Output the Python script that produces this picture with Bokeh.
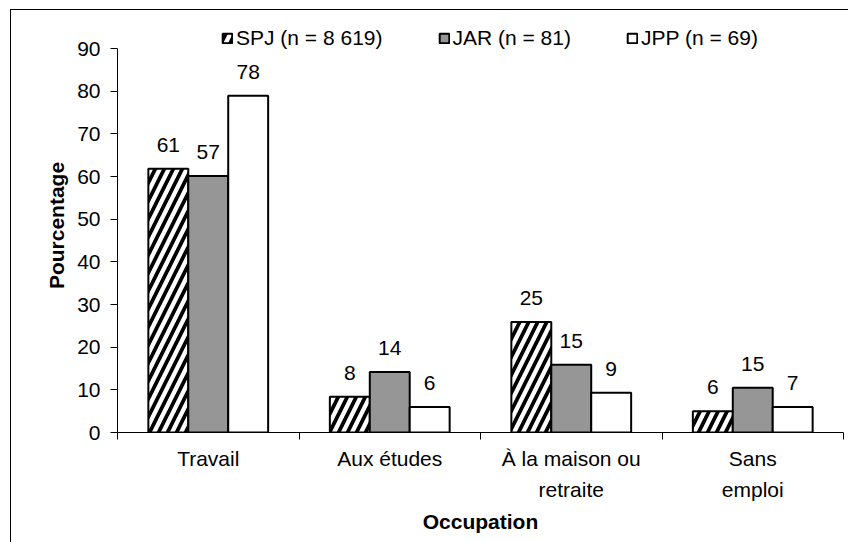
from bokeh.plotting import figure
from bokeh.models import Range1d, FixedTicker, Legend, LegendItem, ColumnDataSource
from bokeh.embed import file_html
from bokeh.resources import INLINE
from bokeh.core.properties import value

# ---- data ----
categories = ["Travail", "Aux études", "À la maison ou\nretraite", "Sans\nemploi"]
series_names = ["SPJ (n = 8 619)", "JAR (n = 81)", "JPP (n = 69)"]
spj_values = [61.8, 8.4, 25.9, 5.0]
jar_values = [60.1, 14.2, 15.9, 10.5]
jpp_values = [78.9, 6.0, 9.3, 6.0]
spj_labels = ["61", "8", "25", "6"]
jar_labels = ["57", "14", "15", "15"]
jpp_labels = ["78", "6", "9", "7"]
y_ticks = [0, 10, 20, 30, 40, 50, 60, 70, 80, 90]
y_axis_max = 90

FONT = "Liberation Sans"
FS = "21px"

TOP_PAD = 18      # frame top (room for the legend above the 90 tick)
AXIS_TOP = 48     # pixel row of the 90 tick
AXIS_BOTTOM = 432 # pixel row of the 0 tick
y_end = y_axis_max * (AXIS_BOTTOM - TOP_PAD) / (AXIS_BOTTOM - AXIS_TOP)

p = figure(width=848, height=542, x_range=Range1d(0, 4), y_range=Range1d(0, y_end),
           output_backend="svg", toolbar_location=None,
           min_border_left=117, min_border_right=5, min_border_top=TOP_PAD,
           min_border_bottom=542 - AXIS_BOTTOM)
p.xgrid.visible = False
p.ygrid.visible = False
p.outline_line_color = None
p.background_fill_color = "white"
p.border_fill_alpha = 0
p.styles = {"box-shadow": "inset 10px 9px 0 0 white, inset 11px 10px 0 0 black"}

centers = [i + 0.5 for i in range(len(categories))]
offsets = [-0.22, 0.0, 0.22]
bar_w = 0.22

series = [
    (spj_values, spj_labels, dict(fill_color="white", hatch_pattern="/", hatch_color="black",
                                  hatch_weight=3.8, hatch_scale=18)),
    (jar_values, jar_labels, dict(fill_color="#969696")),
    (jpp_values, jpp_labels, dict(fill_color="white")),
]

renderers = []
for (vals, lbls, style), off in zip(series, offsets):
    src = ColumnDataSource(dict(x=[c + off for c in centers], top=vals, lbl=lbls))
    r = p.vbar(x="x", top="top", width=bar_w, source=src, line_color="black",
               line_width=2, **style)
    renderers.append(r)
    p.text(x="x", y="top", text="lbl", source=src, text_font=value(FONT),
           text_font_size=FS, text_align="center", text_baseline="middle",
           y_offset=-24, text_color="black")

# axes
xa = p.xaxis[0]
xa.ticker = FixedTicker(ticks=centers, minor_ticks=[0, 1, 2, 3, 4])
xa.major_label_overrides = {c: lab for c, lab in zip(centers, categories)}
xa.major_tick_line_color = None
xa.minor_tick_line_color = "black"
xa.minor_tick_out = 7
xa.minor_tick_in = 0
xa.axis_line_color = "black"
xa.major_label_text_font = FONT
xa.major_label_text_font_size = FS
xa.major_label_text_color = "black"
xa.major_label_text_line_height = 1.35
xa.major_label_standoff = 7
xa.axis_label = "Occupation"
xa.axis_label_text_font = FONT
xa.axis_label_text_font_size = FS
xa.axis_label_text_font_style = "bold"
xa.axis_label_text_color = "black"
xa.axis_label_standoff = 6

ya = p.yaxis[0]
ya.ticker = FixedTicker(ticks=y_ticks)
ya.bounds = (0, y_axis_max)
ya.minor_tick_line_color = None
ya.major_tick_out = 7
ya.major_tick_in = 0
ya.axis_line_color = "black"
ya.major_label_text_font = FONT
ya.major_label_text_font_size = FS
ya.major_label_text_color = "black"
ya.major_label_standoff = 10
ya.axis_label = "Pourcentage"
ya.axis_label_text_font = FONT
ya.axis_label_text_font_size = FS
ya.axis_label_text_font_style = "bold"
ya.axis_label_text_color = "black"
ya.axis_label_standoff = 6

legend = Legend(items=[LegendItem(label=n, renderers=[r]) for n, r in zip(series_names, renderers)],
                orientation="horizontal", location=(104, 382),
                glyph_width=12, glyph_height=12, label_standoff=3, spacing=55,
                padding=0, margin=0, border_line_color=None, background_fill_alpha=0,
                label_text_font=FONT, label_text_font_size=FS, label_height=20,
                label_text_color="black")
p.add_layout(legend)

open("out.html", "w").write(file_html(p, INLINE))
